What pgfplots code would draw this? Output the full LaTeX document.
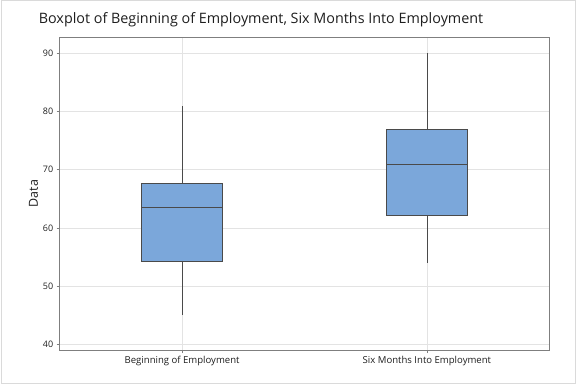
\documentclass[border=0pt]{standalone}
\usepackage{fontspec}
\setmainfont{Open Sans}
\usepackage{pgfplots}
\pgfplotsset{compat=1.18}
\definecolor{boxfill}{HTML}{7BA7DA}
\definecolor{boxedge}{HTML}{4A4A4A}
\definecolor{gridc}{HTML}{E3E3E3}
\definecolor{framec}{HTML}{7F7F7F}
\definecolor{outer}{HTML}{DADADA}
\definecolor{textc}{HTML}{1E1E1E}
\begin{document}
\begin{tikzpicture}
\useasboundingbox (0bp,0bp) rectangle (576bp,384bp);
\draw[outer, line width=1bp] (1bp,1bp) rectangle (575bp,383bp);
\node[text=textc, font=\fontsize{14.4}{16}\selectfont] at (261bp,364bp) {Boxplot of Beginning of Employment, Six Months Into Employment};
\begin{axis}[
  at={(59.7bp,34bp)}, anchor=south west,
  scale only axis, width=489.6bp, height=312.7bp,
  xmin=0.5, xmax=2.5, ymin=39.02, ymax=92.75,
  xtick={1,2}, xticklabels={Beginning of Employment, Six Months Into Employment},
  ytick={40,50,60,70,80,90},
  tick align=outside, tick pos=left,
  major tick length=3bp,
  tick style={framec, line width=0.6bp},
  axis line style={framec, line width=0.8bp},
  grid=major, grid style={gridc, line width=0.6bp},
  xticklabel style={font=\fontsize{9.6}{11}\selectfont, text=textc},
  yticklabel style={font=\fontsize{9}{10}\selectfont, text=textc},
  /pgf/number format/assume math mode=true,
  ylabel={Data}, ylabel style={font=\fontsize{12.5}{14}\selectfont, text=textc, yshift=-2bp},
]
% Beginning of Employment: whiskers 45.0, 81.0; box 54.3 -- 67.65; median 63.55
\addplot[boxedge, line width=0.7bp] coordinates {(1,45.0) (1,54.3)};
\addplot[boxedge, line width=0.7bp] coordinates {(1,67.65) (1,81.0)};
\addplot[draw=boxedge, fill=boxfill, line width=0.7bp] coordinates {(0.835,54.3) (1.165,54.3) (1.165,67.65) (0.835,67.65)} -- cycle;
\addplot[boxedge, line width=0.7bp] coordinates {(0.835,63.55) (1.165,63.55)};
% Six Months Into Employment: whiskers 54.0, 90.0; box 62.2 -- 76.95; median 70.9
\addplot[boxedge, line width=0.7bp] coordinates {(2,54.0) (2,62.2)};
\addplot[boxedge, line width=0.7bp] coordinates {(2,76.95) (2,90.0)};
\addplot[draw=boxedge, fill=boxfill, line width=0.7bp] coordinates {(1.835,62.2) (2.165,62.2) (2.165,76.95) (1.835,76.95)} -- cycle;
\addplot[boxedge, line width=0.7bp] coordinates {(1.835,70.9) (2.165,70.9)};
\end{axis}
\end{tikzpicture}
\end{document}
